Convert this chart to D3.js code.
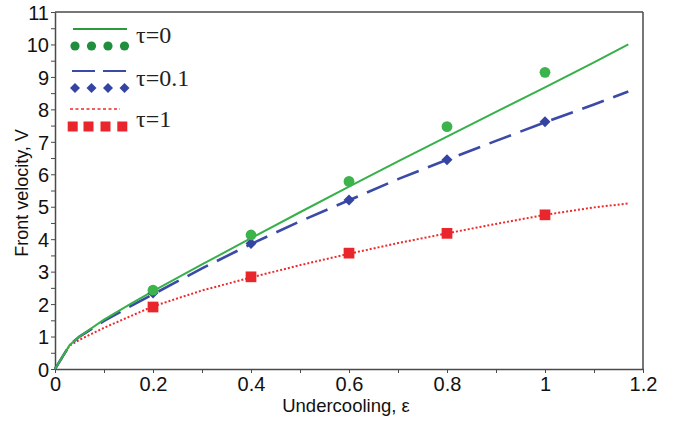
<!DOCTYPE html>
<html><head><meta charset="utf-8">
<script src="https://cdn.jsdelivr.net/npm/d3@7"></script>
<style>body{margin:0;background:#fff}svg{display:block}</style>
</head><body>
<svg id="c" width="681" height="427"></svg>
<script>
// ---- data ----
const lineEps = [0, 0.03, 0.05, 0.1, 0.15, 0.2, 0.3, 0.4, 0.5, 0.6, 0.7, 0.8, 0.9, 1.0, 1.1, 1.17];
const lineTau0   = [0, 0.74, 1.0, 1.52, 1.97, 2.4, 3.22, 4.03, 4.83, 5.62, 6.4, 7.16, 7.92, 8.68, 9.45, 10.0];
const lineTau01  = [0, 0.74, 1.0, 1.48, 1.9, 2.3, 3.1, 3.85, 4.55, 5.2, 5.85, 6.45, 7.03, 7.6, 8.15, 8.55];
const lineTau1   = [0, 0.72, 0.9, 1.27, 1.6, 1.93, 2.42, 2.82, 3.2, 3.55, 3.88, 4.18, 4.47, 4.75, 4.98, 5.1];
const pointEps = [0.2, 0.4, 0.6, 0.8, 1.0];
const pointTau0  = [2.43, 4.13, 5.78, 7.47, 9.14];
const pointTau01 = [2.34, 3.87, 5.21, 6.45, 7.62];
const pointTau1  = [1.91, 2.84, 3.57, 4.18, 4.75];
const xTicks = [0, 0.2, 0.4, 0.6, 0.8, 1, 1.2];
const yTicks = [0,1,2,3,4,5,6,7,8,9,10,11];
const legendLabels = ["\u03c4=0", "\u03c4=0.1", "\u03c4=1"];

const svg = d3.select("#c");
const x = d3.scaleLinear().domain([0, 1.2]).range([55, 643]);
const y = d3.scaleLinear().domain([0, 11]).range([369, 12]);
const axisCol = "#4a4a4a";
const sans = "Liberation Sans, Arial, sans-serif";

// frame top/right
svg.append("line").attr("x1", x(0)).attr("x2", x(1.2)).attr("y1", y(11)).attr("y2", y(11)).attr("stroke", axisCol).attr("stroke-width", 1.5);
svg.append("line").attr("x1", x(1.2)).attr("x2", x(1.2)).attr("y1", y(11)).attr("y2", y(0)).attr("stroke", axisCol).attr("stroke-width", 1.5);

// axes
const xAx = svg.append("g").attr("transform", `translate(0,${y(0)})`)
  .call(d3.axisBottom(x).tickValues(d3.range(0, 1.21, 0.1)).tickSize(4).tickSizeOuter(0)
    .tickFormat(d => xTicks.some(t => Math.abs(t - d) < 1e-6) ? d3.format("~g")(+d.toFixed(1)) : ""));
const yAx = svg.append("g").attr("transform", `translate(${x(0)},0)`)
  .call(d3.axisLeft(y).tickValues(d3.range(0, 11.01, 0.5)).tickSize(4).tickSizeOuter(0)
    .tickFormat(d => yTicks.includes(d) ? d : ""));
[xAx, yAx].forEach(g => {
  g.select(".domain").attr("stroke", axisCol).attr("stroke-width", 1.5);
  g.selectAll(".tick line").attr("stroke", axisCol).attr("stroke-width", 1);
  g.selectAll("text").attr("fill", "#111").attr("font-family", sans).attr("font-size", 20);
});
xAx.selectAll("text").attr("dy", "0.9em").attr("y", 4);
yAx.selectAll("text").attr("x", -6).attr("dy", "0.36em");

// axis titles
svg.append("text").attr("x", 346).attr("y", 412).attr("text-anchor", "middle")
  .attr("font-family", sans).attr("font-size", 18.5).attr("fill", "#111")
  .text("Undercooling, \u03b5");
svg.append("text").attr("transform", "translate(28,193) rotate(-90)").attr("text-anchor", "middle")
  .attr("font-family", sans).attr("font-size", 18).attr("fill", "#111")
  .text("Front velocity, V");

// lines
const line = d3.line().x(d => x(d[0])).y(d => y(d[1]));
const green = "#37b04a", blue = "#3a4aa6", red = "#ee2a2a";
const g2 = svg.append("g");
g2.append("path").datum(lineEps.map((e,i)=>[e,lineTau1[i]])).attr("d", line).attr("fill","none")
  .attr("stroke", red).attr("stroke-width", 2).attr("stroke-dasharray", "2,2");
g2.append("path").datum(lineEps.map((e,i)=>[e,lineTau01[i]])).attr("d", line).attr("fill","none")
  .attr("stroke", blue).attr("stroke-width", 2.6).attr("stroke-dasharray", "23,10");
g2.append("path").datum(lineEps.map((e,i)=>[e,lineTau0[i]])).attr("d", line).attr("fill","none")
  .attr("stroke", green).attr("stroke-width", 2);

// markers
const sq = d3.symbol().type(d3.symbolSquare).size(115);
const dia = d3.symbol().type(d3.symbolSquare).size(60);
g2.selectAll(".sq").data(pointEps.map((e,i)=>[e,pointTau1[i]])).join("path")
  .attr("d", sq).attr("transform", d=>`translate(${x(d[0])},${y(d[1])})`).attr("fill", "#e8262b");
g2.selectAll(".di").data(pointEps.map((e,i)=>[e,pointTau01[i]])).join("path")
  .attr("d", dia).attr("transform", d=>`translate(${x(d[0])},${y(d[1])}) rotate(45)`).attr("fill", "#3444a3");
g2.selectAll(".ci").data(pointEps.map((e,i)=>[e,pointTau0[i]])).join("circle")
  .attr("cx", d=>x(d[0])).attr("cy", d=>y(d[1])).attr("r", 5.4).attr("fill", "#3cb44b");

// legend
const lg = svg.append("g");
const lxs = [75, 91.5, 108, 124.5];
lg.append("line").attr("x1",73).attr("x2",127).attr("y1",29).attr("y2",29).attr("stroke","#2a9a3c").attr("stroke-width",2);
lg.selectAll(".lc").data(lxs).join("circle").attr("cx",d=>d).attr("cy",46).attr("r",4.6).attr("fill","#1f8f3d");
lg.append("line").attr("x1",72).attr("x2",126).attr("y1",71).attr("y2",71).attr("stroke",blue).attr("stroke-width",2)
  .attr("stroke-dasharray","23,8");
lg.selectAll(".ld").data(lxs).join("path").attr("d", d3.symbol().type(d3.symbolSquare).size(50))
  .attr("transform", d=>`translate(${d},88) rotate(45)`).attr("fill","#3444a3");
lg.append("line").attr("x1",70).attr("x2",120).attr("y1",109).attr("y2",109).attr("stroke",red).attr("stroke-width",1.6)
  .attr("stroke-dasharray","3,2.5");
lg.selectAll(".ls").data([72.7, 88.5, 105.5, 122.3]).join("rect").attr("x",d=>d-5).attr("y",121.5).attr("width",10).attr("height",10)
  .attr("fill","#e8262b");
[[43, legendLabels[0]], [86, legendLabels[1]], [127, legendLabels[2]]].forEach(([yy, t]) => {
  lg.append("text").attr("x",136).attr("y",yy).attr("font-family","Liberation Serif, Times New Roman, serif")
    .attr("font-size",24).attr("fill","#222").text(t);
});
</script>
</body></html>
